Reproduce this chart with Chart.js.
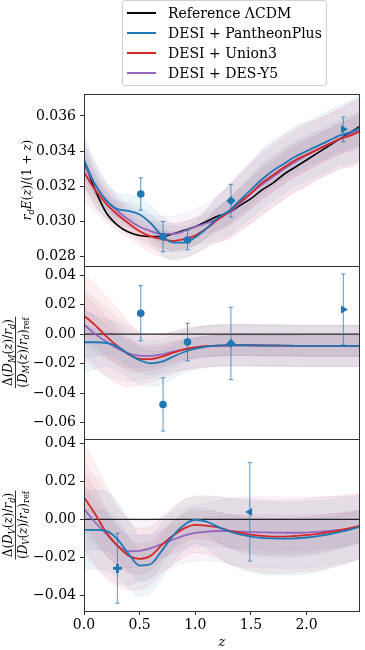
<!DOCTYPE html>
<html>
<head>
<meta charset="utf-8">
<script src="https://cdn.jsdelivr.net/npm/chart.js@4.4.1/dist/chart.umd.min.js"></script>
<style>
  html, body { margin: 0; padding: 0; background: #fff; }
  #wrap { position: relative; width: 365px; height: 650px; overflow: hidden; font-family: "DejaVu Serif", serif; }
  #wrap canvas { position: absolute; left: 0; top: 0; }
  #legend { position: absolute; left: 122px; top: 0; width: 203px; height: 84px; border: 1px solid #d0d0d0;
            border-radius: 3px; background: rgba(255,255,255,0.8); z-index: 5; }
  .item { position: absolute; left: 0; width: 100%; height: 20px; }
  .swatch { position: absolute; left: 4px; top: 9px; width: 29px; height: 2px; }
  .label { position: absolute; left: 45px; top: 0; line-height: 20px; font-size: 14px; color: #000; white-space: nowrap; }
</style>
</head>
<body>
<div id="wrap">
  <canvas id="hz" width="365" height="650"></canvas>
  <canvas id="dm" width="365" height="650"></canvas>
  <canvas id="dv" width="365" height="650"></canvas>
  <div id="legend"></div>
</div>
<script>
// redshift grid the curves were read on
const zGrid = [0.0,0.1,0.2,0.3,0.4,0.5,0.6,0.7,0.8,0.9,1.0,1.1,1.2,1.3,1.4,1.5,1.6,1.7,1.8,1.9,2.0,2.1,2.2,2.3,2.4,2.5];

const seriesNames = ["Reference \u039BCDM", "DESI + PantheonPlus", "DESI + Union3", "DESI + DES-Y5"];
const seriesColors = ["#000000", "#1f77b4", "#d62728", "#9467bd"];

// panel 1: r_d E(z)/(1+z)
const hzLCDM = [0.0334,0.0318,0.0305,0.0298,0.0294,0.0292,0.02915,0.02915,0.0293,0.0295,0.0297,0.0300,0.0303,0.0305,0.0309,0.0313,0.0318,0.0322,0.0327,0.0331,0.0335,0.0339,0.0343,0.0347,0.0351,0.0355];
const hzPantheon = [0.0335,0.0321,0.0312,0.0307,0.0306,0.0304,0.0299,0.0292,0.0288,0.0288,0.0291,0.0296,0.0302,0.0306,0.0312,0.0318,0.0324,0.0329,0.0333,0.0337,0.0340,0.0343,0.0346,0.0349,0.0351,0.0354];
const hzUnion = [0.0328,0.0318,0.0310,0.0304,0.0299,0.02945,0.02915,0.0290,0.0289,0.0290,0.0292,0.0296,0.0301,0.03055,0.0311,0.0316,0.0322,0.03265,0.0331,0.0335,0.0338,0.0341,0.0344,0.0347,0.0349,0.0352];
const hzDes = [0.0332,0.0321,0.0312,0.0306,0.0301,0.0297,0.02945,0.0293,0.0293,0.02945,0.0297,0.0299,0.03015,0.0305,0.0310,0.0316,0.0321,0.03255,0.0330,0.0334,0.03375,0.0341,0.0344,0.0347,0.0350,0.0353];
const hzSigPantheon = [0.0007,0.0006,0.0005,0.00045,0.00045,0.00045,0.0005,0.00055,0.0005,0.00045,0.00045,0.0005,0.0006,0.0007,0.00075,0.0008,0.00085,0.00085,0.00085,0.00085,0.00085,0.00085,0.00085,0.00085,0.0009,0.0009];
const hzSigUnion = [0.0008,0.0006,0.0005,0.00045,0.0004,0.0004,0.00045,0.0005,0.0005,0.0005,0.0005,0.00055,0.00065,0.00075,0.0008,0.00085,0.0009,0.0009,0.0009,0.0009,0.0009,0.00085,0.00085,0.00085,0.0009,0.0009];
const hzSigDes = [0.0007,0.0006,0.0005,0.00045,0.0004,0.0004,0.00045,0.0005,0.0005,0.0005,0.0005,0.00055,0.00065,0.00075,0.0008,0.00085,0.00085,0.00085,0.00085,0.00085,0.00085,0.00085,0.00085,0.00085,0.0009,0.0009];

// panel 2: relative D_M/r_d
const dmPantheon = [-0.0055,-0.0055,-0.006,-0.0085,-0.0135,-0.0176,-0.0198,-0.0187,-0.0153,-0.0121,-0.0099,-0.0085,-0.0078,-0.0075,-0.0075,-0.0076,-0.0077,-0.0078,-0.0078,-0.0079,-0.008,-0.008,-0.008,-0.008,-0.008,-0.008];
const dmUnion = [0.0125,0.0061,-0.0015,-0.0081,-0.0137,-0.0167,-0.0169,-0.0153,-0.0126,-0.0103,-0.009,-0.0082,-0.0078,-0.0076,-0.0075,-0.0075,-0.0076,-0.0077,-0.0078,-0.0079,-0.008,-0.008,-0.008,-0.008,-0.008,-0.008];
const dmDes = [0.0065,0.0,-0.0051,-0.0097,-0.013,-0.0146,-0.0148,-0.0137,-0.0119,-0.0103,-0.009,-0.0082,-0.0078,-0.0077,-0.0077,-0.0077,-0.0078,-0.0078,-0.0079,-0.0079,-0.008,-0.008,-0.008,-0.008,-0.008,-0.008];
const dmSigPantheon = [0.0107,0.009,0.008,0.008,0.008,0.008,0.0078,0.0075,0.0072,0.007,0.007,0.007,0.007,0.007,0.007,0.007,0.007,0.007,0.007,0.007,0.007,0.007,0.007,0.007,0.007,0.007];
const dmSigUnion = [0.0137,0.0136,0.0135,0.0125,0.011,0.0088,0.0078,0.0072,0.007,0.007,0.007,0.007,0.007,0.007,0.007,0.007,0.007,0.007,0.007,0.007,0.007,0.007,0.007,0.007,0.007,0.007];
const dmSigDes = [0.012,0.012,0.0115,0.0105,0.0095,0.008,0.0074,0.007,0.0068,0.0068,0.0068,0.0068,0.0068,0.0068,0.0068,0.0068,0.0068,0.0068,0.0068,0.0068,0.0068,0.0068,0.0068,0.0068,0.0068,0.0068];

// panel 3: relative D_V/r_d
const dvPantheon = [-0.0055,-0.0055,-0.006,-0.0103,-0.0181,-0.0242,-0.0234,-0.0164,-0.0085,-0.0029,-0.0002,-0.0012,-0.0038,-0.0062,-0.0079,-0.009,-0.0097,-0.01,-0.0101,-0.01,-0.0095,-0.0088,-0.0078,-0.0066,-0.0052,-0.0035];
const dvUnion = [0.0116,0.0028,-0.0068,-0.0138,-0.019,-0.0207,-0.019,-0.0134,-0.0085,-0.0047,-0.0029,-0.0033,-0.0041,-0.0059,-0.0069,-0.008,-0.0087,-0.009,-0.009,-0.0087,-0.0083,-0.0076,-0.0067,-0.0057,-0.0044,-0.0032];
const dvDes = [0.0054,-0.0015,-0.0076,-0.0138,-0.0167,-0.0165,-0.0151,-0.0129,-0.0106,-0.0085,-0.0071,-0.0064,-0.0061,-0.0062,-0.0064,-0.0066,-0.0068,-0.0069,-0.007,-0.007,-0.0069,-0.0066,-0.0061,-0.0055,-0.0047,-0.0038];
const dvSigPantheon = [0.0103,0.0103,0.0103,0.0098,0.009,0.008,0.0075,0.0072,0.007,0.0065,0.0062,0.0068,0.0078,0.0085,0.009,0.0093,0.0095,0.0095,0.0095,0.0095,0.0095,0.0093,0.009,0.0088,0.0085,0.0083];
const dvSigUnion = [0.0135,0.0132,0.0122,0.0105,0.009,0.008,0.0075,0.0073,0.0075,0.0075,0.0072,0.0075,0.008,0.0085,0.009,0.0093,0.0095,0.0095,0.0095,0.0095,0.0095,0.0095,0.0093,0.009,0.0087,0.0085];
const dvSigDes = [0.012,0.0118,0.011,0.0098,0.0088,0.008,0.0075,0.0072,0.0072,0.0072,0.0072,0.0075,0.008,0.0085,0.009,0.0092,0.0093,0.0093,0.0093,0.0093,0.0093,0.0092,0.009,0.0088,0.0085,0.0083];

// DESI measurements
const obsZ = [0.51, 0.71, 0.93, 1.32, 2.33];
const obsStyle = ["circle", "circle", "circle", "rectRot", "triangle"];
const obsRot = [0, 0, 0, 0, 90];
const hzObs = [0.03156, 0.02914, 0.02895, 0.03118, 0.03524];
const hzObsErr = [0.00092, 0.00086, 0.00056, 0.00093, 0.0007];
const dmObs = [0.0141, -0.0476, -0.0054, -0.0063, 0.0167];
const dmObsErr = [0.0187, 0.018, 0.0127, 0.0245, 0.024];
const dvObsZ = [0.30, 1.49];
const dvStyle = ["plus", "triangle"];
const dvRot = [0, -90];
const dvObs = [-0.0256, 0.0039];
const dvObsErr = [0.0183, 0.0258];

// axes
const xTicks = [0.0, 0.5, 1.0, 1.5, 2.0];
const hzTicks = [0.028, 0.030, 0.032, 0.034, 0.036];
const dmTicks = [-0.06, -0.04, -0.02, 0.00, 0.02, 0.04];
const dvTicks = [-0.04, -0.02, 0.00, 0.02, 0.04];
const refZero = [0, 0];
const refZeroZ = [0, 2.5];

const FONT = "DejaVu Serif";
const blue = seriesColors[1], red = seriesColors[2], purple = seriesColors[3];

function rgba(hex, a) {
  const n = parseInt(hex.slice(1), 16);
  return `rgba(${(n >> 16) & 255},${(n >> 8) & 255},${n & 255},${a})`;
}

function plusMarker(size, arm, color) {
  const c = document.createElement("canvas");
  c.width = c.height = size;
  const g = c.getContext("2d");
  g.fillStyle = color;
  const a = (size - arm) / 2;
  g.fillRect(a, 0, arm, size);
  g.fillRect(0, a, size, arm);
  return c;
}
const plusImg = plusMarker(9, 3, blue);

function lineSet(vals, color, order, width) {
  return {
    data: zGrid.map((z, i) => ({ x: z, y: vals[i] })),
    borderColor: color, borderWidth: width || 1.8, pointRadius: 0,
    fill: false, order: order, cubicInterpolationMode: "monotone"
  };
}

function bandSets(mean, sig, color, k) {
  const lo = zGrid.map((z, i) => ({ x: z, y: mean[i] - k * sig[i] }));
  const hi = zGrid.map((z, i) => ({ x: z, y: mean[i] + k * sig[i] }));
  const edge = rgba(color, 0.12);
  return [
    { data: lo, borderWidth: 0.7, borderColor: edge, pointRadius: 0, fill: false, order: 10, cubicInterpolationMode: "monotone" },
    { data: hi, borderWidth: 0.7, borderColor: edge, pointRadius: 0, fill: "-1", backgroundColor: rgba(color, 0.075), order: 10, cubicInterpolationMode: "monotone" }
  ];
}

function errorSets(zs, vals, errs) {
  const c = rgba(blue, 0.75);
  return zs.map((z, i) => ({
    data: [{ x: z, y: vals[i] - errs[i] }, { x: z, y: vals[i] + errs[i] }],
    borderColor: c, borderWidth: 1,
    pointStyle: "line", pointRadius: 2.2, pointBorderColor: c, pointBorderWidth: 1,
    fill: false, order: 1
  }));
}

function markerSet(zs, vals, styles, rots) {
  return {
    data: zs.map((z, i) => ({ x: z, y: vals[i] })),
    showLine: false,
    pointStyle: styles.map(s => s === "plus" ? plusImg : s),
    pointRotation: rots,
    pointRadius: styles.map(s => s === "circle" ? 3.8 : 4.6),
    backgroundColor: blue, borderColor: blue, borderWidth: 0, order: 0
  };
}

// rich math-like text: [text, flags] with i = italic, s = subscript
function richRun(ctx, segs, size, x, y, draw) {
  let cx = x;
  for (const [t, f] of segs) {
    const fs = f.includes("s") ? size * 0.7 : size;
    ctx.font = (f.includes("i") ? "italic " : "") + fs + "px \"" + FONT + "\"";
    if (draw) ctx.fillText(t, cx, y + (f.includes("s") ? size * 0.22 : 0));
    cx += ctx.measureText(t).width;
  }
  return cx - x;
}

const frame = {
  id: "frame",
  afterDraw(chart) {
    const { ctx, chartArea: a } = chart;
    ctx.save();
    ctx.strokeStyle = "#333";
    ctx.lineWidth = 1;
    ctx.strokeRect(Math.round(a.left) + 0.5, Math.round(a.top) + 0.5,
      Math.round(a.right - a.left) - 1, Math.round(a.bottom - a.top));
    ctx.restore();
  }
};

const ytitle = {
  id: "ytitle",
  afterDraw(chart, args, opts) {
    const { ctx, chartArea: a } = chart;
    const cy = (a.top + a.bottom) / 2;
    ctx.save();
    ctx.fillStyle = "#000";
    ctx.textBaseline = "alphabetic";
    ctx.translate(opts.x, cy);
    ctx.rotate(-Math.PI / 2);
    if (opts.den) {
      const size = opts.size;
      const wn = richRun(ctx, opts.num, size, 0, 0, false);
      const wd = richRun(ctx, opts.den, size, 0, 0, false);
      richRun(ctx, opts.num, size, -wn / 2, -3.5, true);
      richRun(ctx, opts.den, size, -wd / 2, 11, true);
      const w = Math.max(wn, wd) + 1;
      ctx.strokeStyle = "#000";
      ctx.lineWidth = 0.8;
      ctx.beginPath();
      ctx.moveTo(-w / 2, 0);
      ctx.lineTo(w / 2, 0);
      ctx.stroke();
    } else {
      const w = richRun(ctx, opts.num, opts.size, 0, 0, false);
      richRun(ctx, opts.num, opts.size, -w / 2, 4, true);
    }
    ctx.restore();
  }
};

function yScale(min, max, ticks, digits) {
  return {
    min: min, max: max,
    afterBuildTicks: s => { s.ticks = ticks.map(v => ({ value: v })); },
    afterFit: s => { s.width = 84; },
    ticks: {
      font: { family: FONT, size: 14 }, color: "#000", padding: 4,
      callback: v => v.toFixed(digits).replace("-", "\u2212")
    },
    grid: { drawOnChartArea: false, drawTicks: true, tickLength: 4, color: "#333", lineWidth: 1 },
    border: { display: false }
  };
}

function xScale(show) {
  if (!show) return { type: "linear", min: 0, max: 2.48, display: false };
  return {
    type: "linear", min: 0, max: 2.48,
    afterBuildTicks: s => { s.ticks = xTicks.map(v => ({ value: v })); },
    afterFit: s => { s.height = 39; },
    ticks: { font: { family: FONT, size: 14 }, color: "#000", padding: 2, maxRotation: 0, autoSkip: false,
             callback: v => v.toFixed(1) },
    grid: { drawOnChartArea: false, drawTicks: true, tickLength: 4, color: "#333", lineWidth: 1 },
    border: { display: false },
    title: { display: true, text: "z", color: "#000", padding: 0,
             font: { family: FONT, size: 13, style: "italic" } }
  };
}

function makePanel(id, cfg) {
  const datasets = [];
  cfg.series.forEach(([mean, sig, color]) => {
    datasets.push(...bandSets(mean, sig, color, 2));
    datasets.push(...bandSets(mean, sig, color, 1));
  });
  if (cfg.ref) datasets.push(lineSet(cfg.ref, seriesColors[0], 5, 1.6));
  else datasets.push({
    data: refZeroZ.map((z, i) => ({ x: z, y: refZero[i] })),
    borderColor: "#222", borderWidth: 1.3, pointRadius: 0, fill: false, order: 5
  });
  datasets.push(lineSet(cfg.series[2][0], purple, 4));
  datasets.push(lineSet(cfg.series[1][0], red, 3));
  datasets.push(lineSet(cfg.series[0][0], blue, 2));
  datasets.push(...errorSets(cfg.obsZ, cfg.obs, cfg.err));
  datasets.push(markerSet(cfg.obsZ, cfg.obs, cfg.styles, cfg.rots));

  new Chart(document.getElementById(id), {
    type: "line",
    data: { datasets: datasets },
    options: {
      responsive: false, animation: false, events: [],
      layout: { padding: cfg.padding },
      scales: { x: xScale(cfg.showX), y: yScale(cfg.min, cfg.max, cfg.ticks, cfg.digits) },
      plugins: { legend: { display: false }, tooltip: { enabled: false }, ytitle: cfg.title }
    },
    plugins: [frame, ytitle]
  });
}

const numDM = [["\u0394(", ""], ["D", "i"], ["M", "is"], ["(", ""], ["z", "i"], [")/", ""], ["r", "i"], ["d", "is"], [")", ""]];
const denDM = [["(", ""], ["D", "i"], ["M", "is"], ["(", ""], ["z", "i"], [")/", ""], ["r", "i"], ["d", "is"], [")", ""], ["ref", "s"]];
const numDV = numDM.map(s => s[0] === "M" ? ["V", "is"] : s);
const denDV = denDM.map(s => s[0] === "M" ? ["V", "is"] : s);

makePanel("hz", {
  series: [[hzPantheon, hzSigPantheon, blue], [hzUnion, hzSigUnion, red], [hzDes, hzSigDes, purple]],
  ref: hzLCDM,
  obsZ: obsZ, obs: hzObs, err: hzObsErr, styles: obsStyle, rots: obsRot,
  min: 0.02747, max: 0.03725, ticks: hzTicks, digits: 3, showX: false,
  padding: { top: 94, bottom: 384, left: 0, right: 1 },
  title: { x: 27, size: 12, num: [["r", "i"], ["d", "is"], ["E", "i"], ["(", ""], ["z", "i"], [")/(1 + ", ""], ["z", "i"], [")", ""]] }
});

makePanel("dm", {
  series: [[dmPantheon, dmSigPantheon, blue], [dmUnion, dmSigUnion, red], [dmDes, dmSigDes, purple]],
  obsZ: obsZ, obs: dmObs, err: dmObsErr, styles: obsStyle, rots: obsRot,
  min: -0.071, max: 0.0461, ticks: dmTicks, digits: 2, showX: false,
  padding: { top: 266, bottom: 211, left: 0, right: 1 },
  title: { x: 15.5, size: 12, num: numDM, den: denDM }
});

makePanel("dv", {
  series: [[dvPantheon, dvSigPantheon, blue], [dvUnion, dvSigUnion, red], [dvDes, dvSigDes, purple]],
  obsZ: dvObsZ, obs: dvObs, err: dvObsErr, styles: dvStyle, rots: dvRot,
  min: -0.048, max: 0.0421, ticks: dvTicks, digits: 2, showX: true,
  padding: { top: 439, bottom: 0, left: 0, right: 1 },
  title: { x: 15.5, size: 12, num: numDV, den: denDV }
});

// legend
const legend = document.getElementById("legend");
seriesNames.forEach((name, i) => {
  const item = document.createElement("div");
  item.className = "item";
  item.style.top = (2 + i * 20) + "px";
  item.innerHTML = `<span class="swatch" style="background:${seriesColors[i]}"></span><span class="label">${name}</span>`;
  legend.appendChild(item);
});
</script>
</body>
</html>
